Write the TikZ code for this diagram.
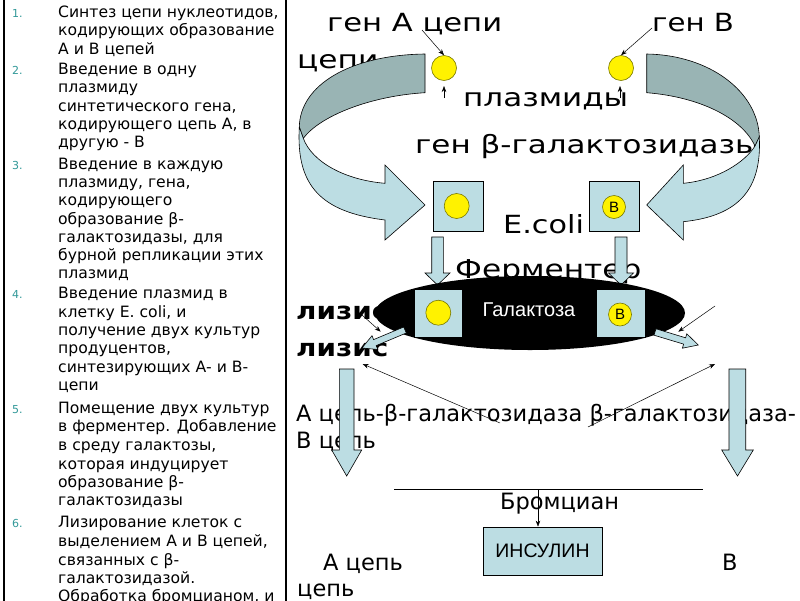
\documentclass[tikz,border=0pt]{standalone}
\usepackage{fontspec}
\setmainfont{DejaVu Sans}
\newfontfamily\arialf{Liberation Sans}
\usetikzlibrary{arrows.meta}
\definecolor{lblue}{RGB}{188,221,227}
\definecolor{dgray}{RGB}{153,180,180}
\definecolor{tealnum}{RGB}{51,153,153}
\definecolor{olivec}{RGB}{120,120,0}
\newcommand{\xsc}[2]{\scalebox{#1}[1]{#2}}
\begin{document}
\begin{tikzpicture}[x=1pt,y=-1pt,
  lt/.style={anchor=base west, inner sep=0pt, font=\fontsize{15.6}{18.4}\selectfont},
  numlab/.style={anchor=base west, inner sep=0pt, font=\fontsize{11}{13}\selectfont, text=tealnum},
  bt/.style={anchor=base west, inner sep=0pt, font=\fontsize{25}{28}\selectfont},
  mt/.style={anchor=base west, inner sep=0pt, font=\fontsize{22.5}{26}\selectfont},
  pbox/.style={draw=black, line width=0.8pt, fill=lblue, inner sep=0pt},
  gene/.style={circle, draw=olivec, line width=0.6pt, fill=yellow, inner sep=0pt, minimum size=25pt},
  geneb/.style={circle, draw=olivec, line width=0.6pt, fill=yellow, inner sep=0pt, minimum size=23pt, font=\arialf\fontsize{15}{16}\selectfont},
  barrow/.style={draw=black, line width=0.6pt, fill=lblue},
  tharrow/.style={draw=black, line width=0.5pt, -{Stealth[length=6pt,width=4.5pt]}}]
\useasboundingbox (0,0) rectangle (800,600);
\fill[white] (0,0) rectangle (800,600);

% left panel
\draw[line width=1.8pt] (3.7,-5) -- (3.7,605);
\draw[line width=1.7pt] (285.8,-5) -- (285.8,605);
\foreach \yy/\txt [count=\i] in {
 17.3/{Синтез цепи нуклеотидов,}, 35.7/{кодирующих образование}, 54.1/{А и В цепей},
 74.3/{Введение в одну}, 92.7/{плазмиду}, 111.1/{синтетического гена,}, 129.5/{кодирующего цепь А, в}, 147.9/{другую - В},
 169.3/{Введение в каждую}, 187.5/{плазмиду, гена,}, 205.5/{кодирующего}, 224/{образование β-}, 242.5/{галактозидазы, для}, 260.5/{бурной репликации этих}, 278.7/{плазмид},
 298.3/{Введение плазмид в}, 317.3/{клетку E. coli, и}, 335.7/{получение двух культур}, 353.8/{продуцентов,}, 372.3/{синтезирующих А- и В-}, 390.7/{цепи},
 413.3/{Помещение двух культур}, 431.7/{в ферментер. Добавление}, 450.5/{в среду галактозы,}, 469/{которая индуцирует}, 487.3/{образование β-}, 505.7/{галактозидазы},
 527.7/{Лизирование клеток с}, 546.7/{выделением А и В цепей,}, 565/{связанных с β-}, 583.3/{галактозидазой.}, 601.7/{Обработка бромцианом, и}}
  \node[lt] (L\i) at (58,\yy) {\txt};
\foreach \yy/\nn [count=\i] in {17.3/1., 74.3/2., 169.3/3., 298.3/4., 413.3/5., 527.7/6.}
  \node[numlab] (N\i) at (12,\yy) {\nn};

% right texts
\node[bt] (tgA) at (327,31.5) {\xsc{1.225}{ген А цепи}};
\node[bt] (tgB) at (652,31.5) {\xsc{1.17}{ген В}};
\node[bt] (tc1) at (297,68.3) {\xsc{1.25}{цепи}};
\node[bt] (tpl) at (463,106.7) {\xsc{1.24}{плазмиды}};
\node[bt] (tbg) at (415,153.3) {\xsc{1.24}{ген β-галактозидазы}};
\node[bt] (tec) at (503,233) {\xsc{1.21}{E.coli}};
\node[bt, font=\fontsize{26}{28}\selectfont] (tfe) at (455,278) {\xsc{1.2}{Ферментер}};
\node[bt, font=\bfseries\fontsize{24}{28}\selectfont] (tl1) at (296,319.3) {\xsc{1.16}{лизис}};
\node[bt, font=\bfseries\fontsize{24}{28}\selectfont] (tl2) at (296,356.7) {\xsc{1.16}{лизис}};
\node[mt] (tac) at (296,421.7) {А цепь-β-галактозидаза β-галактозидаза-};
\node[mt] (tbc) at (296,448.3) {В цепь};
\node[mt] (tbr) at (500,509.3) {Бромциан};
\node[mt] (ta2) at (323,570) {А цепь};
\node[mt] (tc2) at (297,596.7) {цепь};
\node[mt] (tb2) at (722,570) {В};

% curved arrows
\fill[dgray, draw=black, line width=0.6pt] (425,54) .. controls (350,55) and (300,85) .. (299.3,127)
  -- (303.3,138.3) .. controls (320,116) and (370,96) .. (425,92.7) -- cycle;
\fill[lblue, draw=black, line width=0.6pt] (299.3,127) .. controls (296,185) and (320,212) .. (385,220)
  -- (385,240) -- (425,205) -- (385,165) -- (385,183.3) .. controls (345,180) and (312,162) .. (303.3,138.3) -- cycle;
\fill[dgray, draw=black, line width=0.6pt] (646.7,54) .. controls (710,55) and (758,92) .. (759.3,137)
  -- (755,146) .. controls (742,118) and (700,97) .. (646.7,92.7) -- cycle;
\fill[lblue, draw=black, line width=0.6pt] (759.3,137) .. controls (762,190) and (738,216) .. (683.3,221.7)
  -- (683.3,240) -- (646.7,205) -- (683.3,165) -- (683.3,183.3) .. controls (718,180) and (745,162) .. (755,146) -- cycle;

% top genes
\node[gene] (gA) at (444,68) {};
\node[gene] (gB) at (621,68) {};
\coordinate (gAs) at (422,30);
\coordinate (gBs) at (652,28);
\draw[tharrow] (gAs) -- (gA.north);
\draw[tharrow] (gBs) -- (gB.north);
\coordinate (uA) at (444,98); \coordinate (uAe) at (444,86);
\coordinate (uB) at (620,98); \coordinate (uBe) at (620,86);
\draw[tharrow] (uA) -- (uAe);
\draw[tharrow] (uB) -- (uBe);

% plasmid boxes
\node[pbox, minimum width=50pt, minimum height=50pt] (bA) at (458,206) {};
\node[gene] (cA) at (456.7,206) {};
\node[pbox, minimum width=50pt, minimum height=50pt] (bB) at (614,206) {};
\node[geneb] (cB) at (614,207) {В};

% down arrows to fermenter
\fill[barrow] (431.7,237) -- (443.3,237) -- (443.3,273) -- (450,273) -- (437.5,285) -- (425,273) -- (431.7,273) -- cycle;
\fill[barrow] (615,237) -- (627,237) -- (627,273) -- (633.5,273) -- (621,285) -- (608.5,273) -- (615,273) -- cycle;

% fermenter
\fill[black] (530,313) ellipse [x radius=155pt, y radius=37pt];
\node[text=white, font=\arialf\fontsize{20}{22}\selectfont, inner sep=0pt] (tgal) at (529,310) {Галактоза};
\node[pbox, minimum width=48.5pt, minimum height=48pt] (bA2) at (438.3,313) {};
\node[gene] (cA2) at (438.3,312.7) {};
\node[pbox, minimum width=49pt, minimum height=48pt] (bB2) at (620.5,313) {};
\node[geneb] (cB2) at (620,314.5) {В};

% small block arrows out of fermenter
\fill[barrow] (406.3,333) -- (376.2,345.6) -- (377.8,349.5) -- (362,348) -- (372,335.7) -- (373.6,339.6) -- (403.7,327) -- cycle;
\fill[barrow] (654,335.2) -- (683.6,344.1) -- (682.4,348.2) -- (698.3,345) -- (686.8,333.8) -- (685.6,337.8) -- (656,328.8) -- cycle;

% thin arrows (lysis)
\coordinate (l1s) at (362,315); \coordinate (l1e) at (380.7,331.7);
\coordinate (r1s) at (715,306); \coordinate (r1e) at (678.3,331.7);
\coordinate (l2s) at (500,423); \coordinate (l2e) at (362.7,364);
\coordinate (r2s) at (588,427); \coordinate (r2e) at (715,364);
\draw[tharrow] (l1s) -- (l1e);
\draw[tharrow] (r1s) -- (r1e);
\draw[tharrow] (l2s) -- (l2e);
\draw[tharrow] (r2s) -- (r2e);

% long down arrows
\fill[barrow] (339.3,369) -- (354,369) -- (354,450) -- (361.7,450) -- (346.7,476) -- (331.7,450) -- (339.3,450) -- cycle;
\fill[barrow] (729,369) -- (745.7,369) -- (745.7,450) -- (753.3,450) -- (737.5,476) -- (721.7,450) -- (729,450) -- cycle;

% bromcyan and insulin
\coordinate (hl) at (394,489); \coordinate (hr) at (703,489); \coordinate (hj) at (538,489);
\draw[line width=0.7pt] (hl) -- (hr);
\node[pbox, minimum width=119pt, minimum height=48pt, font=\arialf\fontsize{19.5}{22}\selectfont] (ins) at (542.5,551) {ИНСУЛИН};
\draw[tharrow] (hj) -- (hj |- ins.north);
\end{tikzpicture}
\end{document}
